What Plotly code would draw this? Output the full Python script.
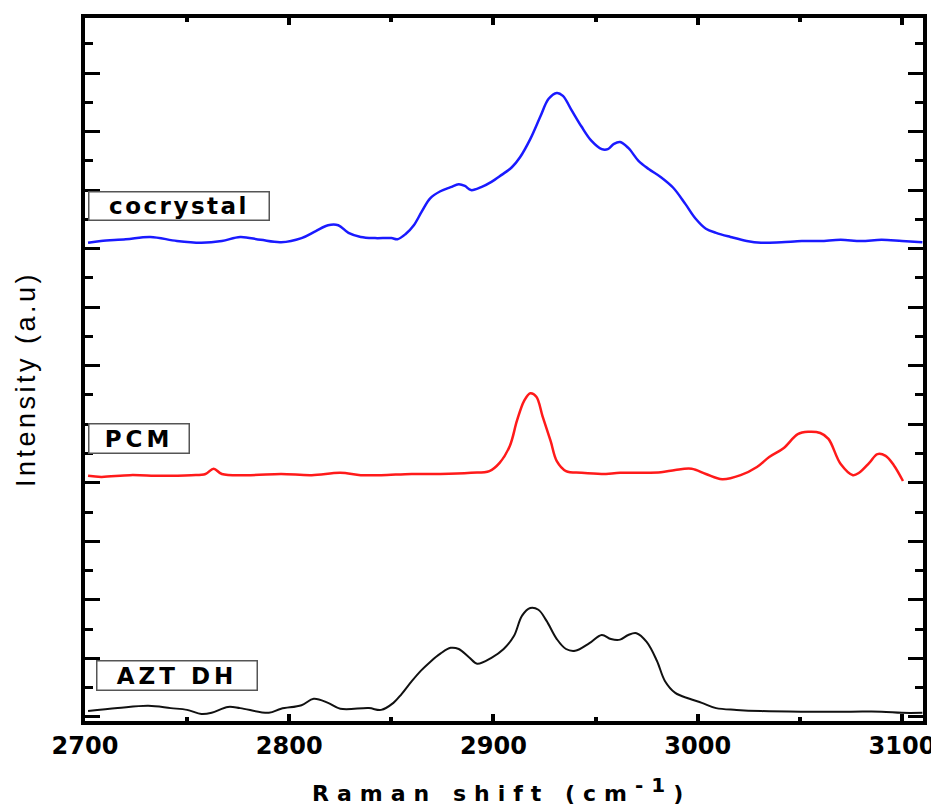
import plotly.graph_objects as go

# ---- data (Raman shift in cm^-1, intensity in a.u., curves offset) ----
cocrystal_x = [2701.5, 2707.8, 2720, 2732, 2745, 2757, 2767, 2776, 2786, 2796, 2806, 2813, 2819, 2824,
               2829, 2835, 2842, 2850, 2853, 2857, 2861, 2865, 2869, 2874, 2879, 2883, 2886, 2889,
               2894, 2899, 2904, 2909, 2913, 2918, 2923, 2927, 2931, 2934, 2938, 2943, 2948, 2953,
               2956, 2959, 2962, 2966, 2971, 2976, 2982, 2988, 2994, 2999, 3004, 3009, 3016, 3024,
               3031, 3041, 3051, 3060, 3070, 3080, 3090, 3100, 3110]
cocrystal_y = [810, 813, 816, 820, 813, 810, 813, 820, 815, 811, 818, 830, 840, 840,
               827, 820, 818, 818, 816, 825, 840, 864, 886, 898, 905, 910, 907, 900,
               905, 914, 926, 939, 956, 987, 1026, 1056, 1066, 1061, 1038, 1009, 984, 970,
               970, 979, 982, 972, 950, 936, 922, 904, 876, 851, 834, 827, 820, 813,
               810, 811, 813, 813, 815, 813, 815, 813, 811]

pcm_x = [2701.5, 2708, 2722, 2737, 2752, 2759, 2763, 2767, 2781, 2796, 2811, 2825, 2835, 2845,
         2860, 2874, 2889, 2898, 2903, 2908, 2911.5, 2915, 2918, 2921, 2924, 2928, 2931, 2935.5,
         2943, 2953, 2962, 2972, 2982, 2989, 2997, 3004, 3012, 3021, 3029, 3035, 3042, 3049,
         3054, 3060, 3064, 3070, 3076, 3079, 3084, 3088, 3092, 3096, 3100.5]
pcm_y = [412, 410, 413, 412, 413, 415, 424, 415, 413, 415, 413, 417, 413, 413,
         415, 415, 417, 420, 434, 463, 506, 540, 553, 547, 514, 471, 437, 420,
         417, 415, 417, 417, 418, 422, 424, 415, 406, 413, 427, 444, 459, 483,
         487, 485, 475, 432, 413, 417, 434, 449, 446, 430, 403]

aztdh_x = [2701.5, 2716, 2731, 2742, 2750, 2757, 2762, 2770, 2776, 2790, 2796, 2806, 2812, 2819,
           2825, 2839, 2845, 2851, 2855, 2860, 2864.5, 2869, 2874, 2879, 2883, 2888, 2892, 2899,
           2905, 2910, 2914, 2918, 2922, 2926, 2931, 2935.5, 2940, 2947, 2953, 2957.5, 2962, 2966,
           2970, 2975, 2980, 2984, 2989, 2996, 3002, 3009, 3019, 3031, 3050.5, 3075, 3090, 3100, 3110]
aztdh_y = [10, 15, 19, 15, 12, 5, 7, 17, 15, 7, 14, 20, 31, 24,
           14, 15, 12, 24, 39, 61, 79, 94, 108, 118, 116, 102, 91, 101,
           116, 138, 173, 186, 183, 164, 133, 116, 113, 126, 140, 133, 132, 140,
           143, 128, 96, 61, 41, 31, 24, 15, 12, 10, 9, 9, 9, 7, 7]

x_tick_vals = [2700, 2800, 2900, 3000, 3100]
x_tick_text = ["2700", "2800", "2900", "3000", "3100"]
series_names = ["cocrystal", "PCM", "AZT DH"]
x_title = 'Raman shift (cm<sup><span style="font-size:20px">-1</span></sup>)'
y_title = "Intensity (a.u)"

BOLD = "DejaVu Sans, Liberation Sans, Arial, sans-serif"
REG = "Liberation Sans, Arial, sans-serif"

fig = go.Figure()
fig.add_trace(go.Scatter(x=cocrystal_x, y=cocrystal_y, mode="lines", name=series_names[0],
                         line=dict(color="#1a1aff", width=2.5), line_shape="spline"))
fig.add_trace(go.Scatter(x=pcm_x, y=pcm_y, mode="lines", name=series_names[1],
                         line=dict(color="#ff1a1a", width=2.5), line_shape="spline"))
fig.add_trace(go.Scatter(x=aztdh_x, y=aztdh_y, mode="lines", name=series_names[2],
                         line=dict(color="#111111", width=2), line_shape="spline"))

def spaced(t, sp):
    return f'<span style="letter-spacing:{sp}px">{t}</span>'

# label boxes (paper coordinates within plot area)
labels = [
    (series_names[0], 0.112, 0.733, 179, 27, 2.5),
    (series_names[1], 0.065, 0.402, 99, 28, 4),
    (series_names[2], 0.110, 0.065, 159, 28, 4),
]
for txt, px, py, w, h, sp in labels:
    fig.add_annotation(xref="paper", yref="paper", x=px, y=py, text=spaced(txt, sp),
                       showarrow=False, xanchor="center", yanchor="middle",
                       width=w, height=h, borderpad=0, bordercolor="#555555", borderwidth=1.5,
                       bgcolor="white", align="center",
                       font=dict(family=BOLD, size=23, color="black", weight="bold"))

# axis titles
fig.add_annotation(xref="paper", yref="paper", x=0.4976, y=-0.098, text=spaced(x_title, 8),
                   showarrow=False, xanchor="center", yanchor="middle",
                   font=dict(family=BOLD, size=22, color="black", weight="bold"))
fig.add_annotation(xref="paper", yref="paper", x=-0.0704, y=0.4865, text=spaced(y_title, 3.5),
                   showarrow=False, xanchor="center", yanchor="middle", textangle=-90,
                   font=dict(family=REG, size=27, color="black"))

# page body has an 8px margin; size the figure so it fills the 939x811 window
fig.update_layout(
    width=931, height=803, autosize=False,
    margin=dict(l=77, r=16, t=10, b=90),
    paper_bgcolor="white", plot_bgcolor="white",
    showlegend=False,
    xaxis=dict(
        range=[2700, 3110.3], showgrid=False, zeroline=False, automargin=False,
        showline=True, linewidth=4, linecolor="black", mirror="allticks",
        ticks="inside", ticklen=7, tickwidth=4, tickcolor="black",
        tickvals=x_tick_vals, ticktext=x_tick_text, ticklabeloverflow="allow",
        tickfont=dict(family=BOLD, size=24, color="black", weight="bold"),
        minor=dict(dtick=50, tick0=2700, ticks="inside", ticklen=4, tickwidth=4, tickcolor="black"),
    ),
    yaxis=dict(
        range=[-7, 1194], showgrid=False, zeroline=False, automargin=False,
        showline=True, linewidth=4, linecolor="black", mirror="allticks",
        ticks="inside", tick0=0, dtick=100, ticklen=15, tickwidth=3, tickcolor="black",
        showticklabels=False,
        minor=dict(dtick=50, tick0=0, ticks="inside", ticklen=8, tickwidth=3, tickcolor="black"),
    ),
)

fig.write_html("out.html")
